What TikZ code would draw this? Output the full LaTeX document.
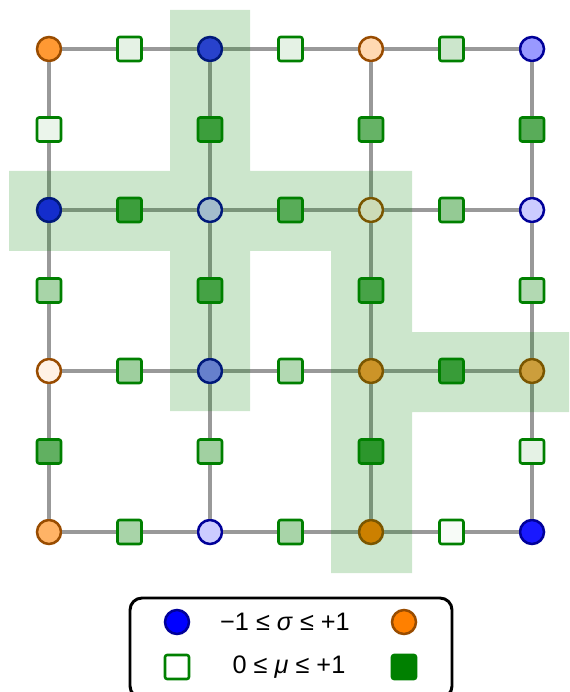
\documentclass[tikz,border=0pt]{standalone}
\usepackage{fontspec}
\setmainfont{Liberation Sans}
\usetikzlibrary{positioning}
\definecolor{sigblue}{HTML}{0000FF}
\definecolor{sigbluedark}{HTML}{000099}
\definecolor{sigorange}{HTML}{FF8000}
\definecolor{sigorangedark}{HTML}{994C00}
\definecolor{mugreen}{HTML}{008000}
\definecolor{bondgray}{HTML}{999999}

\begin{document}
\begin{tikzpicture}[signeg/.style={circle,
                                   inner sep=0mm,
                                   draw=sigbluedark,
                                   line width=1.8pt,
                                   minimum size=0.6cm,
                                  },
                    sigpos/.style={signeg,
                                   draw=sigorangedark
                                  },
                    munode/.style={rectangle,
                                   rounded corners=1.5pt,
                                   inner sep=0mm,
                                   draw=mugreen,
                                   line width=1.8pt,
                                   minimum size=0.6cm,
                                  },
                    bondline/.style={
                                   line width=2.8pt,
                                   draw=bondgray
                                  },
                    legtext/.style={inner sep=0,
                                   font=\fontsize{18}{20}\selectfont
                                  },
                    node distance=2.0125cm, on grid
                   ]
  \useasboundingbox (0,0) rectangle (14.225,-17.3);

  % row 1
  \node[sigpos,fill=sigorange!80] (A1) at (1.225,-1.225) { };
  \node[munode,right=of A1,fill=mugreen!10] (AB1) { };
  \node[signeg,right=of AB1,fill=sigblue!80] (B1) { };
  \node[munode,right=of B1,fill=mugreen!10] (BC1) { };
  \node[sigpos,right=of BC1,fill=sigorange!30] (C1) { };
  \node[munode,right=of C1,fill=mugreen!20] (CD1) { };
  \node[signeg,right=of CD1,fill=sigblue!40] (D1) { };
  \node[munode,below=of A1,fill=mugreen!8] (A12) { };
  \node[munode,below=of B1,fill=mugreen!70] (B12) { };
  \node[munode,below=of C1,fill=mugreen!60] (C12) { };
  \node[munode,below=of D1,fill=mugreen!65] (D12) { };
  % row 2
  \node[signeg,below=of A12,fill=sigblue!90] (A2) { };
  \node[munode,right=of A2,fill=mugreen!70] (AB2) { };
  \node[signeg,right=of AB2,fill=sigblue!20] (B2) { };
  \node[munode,right=of B2,fill=mugreen!57] (BC2) { };
  \node[sigpos,right=of BC2,fill=sigorange!10] (C2) { };
  \node[munode,right=of C2,fill=mugreen!42] (CD2) { };
  \node[signeg,right=of CD2,fill=sigblue!20] (D2) { };
  \node[munode,below=of A2,fill=mugreen!34] (A23) { };
  \node[munode,below=of B2,fill=mugreen!66] (B23) { };
  \node[munode,below=of C2,fill=mugreen!65] (C23) { };
  \node[munode,below=of D2,fill=mugreen!30] (D23) { };
  % row 3
  \node[sigpos,below=of A23,fill=sigorange!10] (A3) { };
  \node[munode,right=of A3,fill=mugreen!38] (AB3) { };
  \node[signeg,right=of AB3,fill=sigblue!50] (B3) { };
  \node[munode,right=of B3,fill=mugreen!30] (BC3) { };
  \node[sigpos,right=of BC3,fill=sigorange!80] (C3) { };
  \node[munode,right=of C3,fill=mugreen!72] (CD3) { };
  \node[sigpos,right=of CD3,fill=sigorange!70] (D3) { };
  \node[munode,below=of A3,fill=mugreen!62] (A34) { };
  \node[munode,below=of B3,fill=mugreen!37] (B34) { };
  \node[munode,below=of C3,fill=mugreen!78] (C34) { };
  \node[munode,below=of D3,fill=mugreen!10] (D34) { };
  % row 4
  \node[sigpos,below=of A34,fill=sigorange!60] (A4) { };
  \node[munode,right=of A4,fill=mugreen!34] (AB4) { };
  \node[signeg,right=of AB4,fill=sigblue!20] (B4) { };
  \node[munode,right=of B4,fill=mugreen!34] (BC4) { };
  \node[sigpos,right=of BC4,fill=sigorange] (C4) { };
  \node[munode,right=of C4,fill=mugreen!3] (CD4) { };
  \node[signeg,right=of CD4,fill=sigblue!90] (D4) { };

  \draw [bondline] (A1) -- (AB1) -- (B1) -- (BC1) -- (C1) -- (CD1) -- (D1);
  \draw [bondline] (A2) -- (AB2) -- (B2) -- (BC2) -- (C2) -- (CD2) -- (D2);
  \draw [bondline] (A3) -- (AB3) -- (B3) -- (BC3) -- (C3) -- (CD3) -- (D3);
  \draw [bondline] (A4) -- (AB4) -- (B4) -- (BC4) -- (C4) -- (CD4) -- (D4);
  \draw [bondline] (A1) -- (A12) -- (A2) -- (A23) -- (A3) -- (A34) -- (A4);
  \draw [bondline] (B1) -- (B12) -- (B2) -- (B23) -- (B3) -- (B34) -- (B4);
  \draw [bondline] (C1) -- (C12) -- (C2) -- (C23) -- (C3) -- (C34) -- (C4);
  \draw [bondline] (D1) -- (D12) -- (D2) -- (D23) -- (D3) -- (D34) -- (D4);

  % shaded cluster
  \fill [mugreen,opacity=0.2] (4.25,-0.25) -- (6.25,-0.25) -- (6.25,-4.275)
    -- (10.3,-4.275) -- (10.3,-8.3) -- (14.225,-8.3) -- (14.225,-10.3)
    -- (10.3,-10.3) -- (10.3,-14.325) -- (8.275,-14.325) -- (8.275,-6.275)
    -- (6.25,-6.275) -- (6.25,-10.275) -- (4.25,-10.275) -- (4.25,-6.275)
    -- (0.225,-6.275) -- (0.225,-4.275) -- (4.25,-4.275) -- cycle;

  % legend
  \draw [line width=2.1pt,rounded corners=0.3cm] (3.25,-14.95) rectangle (11.3,-17.45);
  \node[signeg,fill=sigblue] (legneg) at (4.425,-15.55) { };
  \node[legtext] (legsigma) at (7.125,-15.55) {−1 ≤ \textit{σ} ≤ +1};
  \node[sigpos,fill=sigorange] (legpos) at (10.1,-15.55) { };
  \node[munode,fill=white] (legempty) at (4.425,-16.675) { };
  \node[legtext] (legmu) at (7.225,-16.675) {0 ≤ \textit{μ} ≤ +1};
  \node[munode,fill=mugreen] (legfull) at (10.1,-16.675) { };

  \end{tikzpicture}
\end{document}
